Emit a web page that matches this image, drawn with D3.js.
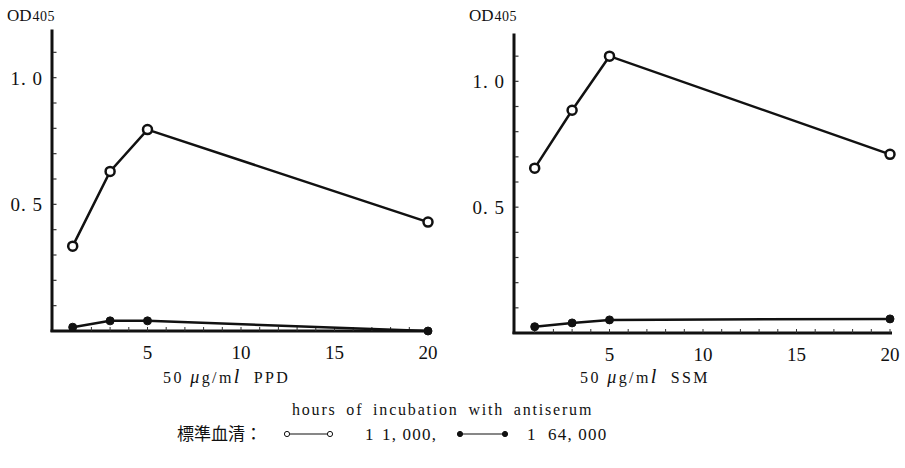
<!DOCTYPE html>
<html>
<head>
<meta charset="utf-8">
<script src="https://cdn.jsdelivr.net/npm/d3@7"></script>
<style>
    body { margin: 0; background: #fff; }
    text { font-family: "Liberation Serif", "DejaVu Serif", serif; fill: #111; }
    .cjk { font-family: "Noto Sans CJK JP", sans-serif; }
</style>
</head>
<body>
<svg id="chart" width="905" height="468"></svg>
<script>
// hours of incubation
const hours = [1, 3, 5, 20];

// OD405, serum 1:1,000 (open) and 1:64,000 (closed)
const ppdHigh = [0.335, 0.63, 0.795, 0.43];
const ppdLow = [0.015, 0.04, 0.04, 0.0];
const ssmHigh = [0.655, 0.885, 1.10, 0.71];
const ssmLow = [0.025, 0.04, 0.052, 0.056];

const xTicks = [5, 10, 15, 20];
const yTicks = [0.5, 1.0];
const yTickLabels = ["0. 5", "1. 0"];
const panelLabels = ["PPD", "SSM"];

const svg = d3.select("#chart");

// pannelli: posizioni in pixel
const PANELS = [
    { left: 54, right: 428, bottom: 331, top: 27, high: ppdHigh, low: ppdLow, label: panelLabels[0], labelX: 163 },
    { left: 516, right: 890, bottom: 333, top: 31, high: ssmHigh, low: ssmLow, label: panelLabels[1], labelX: 580 }
];

/**
 * Disegna un pannello
 */
function drawPanel(p) {
    const x = d3.scaleLinear().domain([0, 20]).range([p.left, p.right]);
    const y = d3.scaleLinear().domain([0, 1.2]).range([p.bottom, p.top]);
    const g = svg.append("g");

    // Assi
    g.append("line")
        .attr("x1", p.left - 2).attr("x2", p.left - 2)
        .attr("y1", y(0) + 1).attr("y2", y(1.19))
        .attr("stroke", "#111").attr("stroke-width", 3);
    g.append("line")
        .attr("x1", p.left - 3.5).attr("x2", x(20) + 2)
        .attr("y1", y(0)).attr("y2", y(0))
        .attr("stroke", "#111").attr("stroke-width", 3);

    // Tacche minori
    g.selectAll(".ytick").data(d3.range(1, 12).map(i => i / 10))
        .join("line")
        .attr("x1", p.left - 1).attr("x2", p.left + 2.5)
        .attr("y1", d => y(d)).attr("y2", d => y(d))
        .attr("stroke", "#333").attr("stroke-width", 1.2);
    g.selectAll(".xtick").data(d3.range(1, 21))
        .join("line")
        .attr("x1", d => x(d)).attr("x2", d => x(d))
        .attr("y1", y(0)).attr("y2", y(0) - 4)
        .attr("stroke", "#333").attr("stroke-width", 1);

    // Etichette
    g.selectAll(".xlab").data(xTicks)
        .join("text")
        .attr("x", d => x(d)).attr("y", y(0) + 28)
        .attr("text-anchor", "middle")
        .attr("font-size", 19)
        .text(d => d);
    g.selectAll(".ylab").data(yTicks)
        .join("text")
        .attr("x", p.left - 11).attr("y", d => y(d) + 7)
        .attr("text-anchor", "end")
        .attr("font-size", 19)
        .attr("letter-spacing", 1)
        .text((d, i) => yTickLabels[i]);

    const od = g.append("text")
        .attr("x", p.left - 47).attr("y", 21)
        .attr("font-size", 17);
    od.append("tspan").text("OD");
    od.append("tspan").attr("font-size", 14).attr("dx", 1).attr("letter-spacing", 0.5).text("405");

    const lab = g.append("text")
        .attr("x", p.labelX).attr("y", 383)
        .attr("font-size", 16)
        .attr("letter-spacing", 2.4);
    lab.append("tspan").text("50 ");
    lab.append("tspan").attr("font-style", "italic").attr("font-size", 18).text("μ");
    lab.append("tspan").text("g/m");
    lab.append("tspan").attr("font-style", "italic").attr("font-size", 20).text("l");
    lab.append("tspan").attr("dx", 12).text(p.label);

    // Serie
    const line = d3.line().x(d => x(d[0])).y(d => y(d[1]));
    [p.high, p.low].forEach((vals, k) => {
        const pts = hours.map((h, i) => [h, vals[i]]);
        g.append("path").datum(pts)
            .attr("d", line)
            .attr("fill", "none")
            .attr("stroke", "#111")
            .attr("stroke-width", 2.5);
        g.selectAll(".pt" + k).data(pts)
            .join("circle")
            .attr("cx", d => x(d[0])).attr("cy", d => y(d[1]))
            .attr("r", k === 0 ? 4.5 : 4)
            .attr("fill", k === 0 ? "#fff" : "#111")
            .attr("stroke", "#111")
            .attr("stroke-width", k === 0 ? 2.5 : 1);
    });
}

PANELS.forEach(drawPanel);

// Titolo asse x comune
svg.append("text")
    .attr("x", 292).attr("y", 415)
    .attr("font-size", 16)
    .attr("letter-spacing", 1.8)
    .attr("word-spacing", 4)
    .text("hours of incubation with antiserum");

// Legenda
const legY = 434;
svg.append("text").attr("class", "cjk")
    .attr("x", 177).attr("y", legY + 6)
    .attr("font-size", 17)
    .text("標準血清：");

const legendItems = [
    { x1: 287, x2: 330, open: true, ratio: "1", dil: "1, 000,", rx: 365, dx: 382 },
    { x1: 460, x2: 505, open: false, ratio: "1", dil: "64, 000", rx: 527, dx: 548 }
];
legendItems.forEach(it => {
    svg.append("line")
        .attr("x1", it.x1).attr("x2", it.x2)
        .attr("y1", legY).attr("y2", legY)
        .attr("stroke", "#111").attr("stroke-width", 1.2);
    [it.x1, it.x2].forEach(cx => {
        svg.append("circle")
            .attr("cx", cx).attr("cy", legY)
            .attr("r", 2.6)
            .attr("fill", it.open ? "#fff" : "#111")
            .attr("stroke", "#111").attr("stroke-width", 1);
    });
    svg.append("text").attr("x", it.rx).attr("y", legY + 6)
        .attr("font-size", 17).text(it.ratio);
    svg.append("text").attr("x", it.dx).attr("y", legY + 6)
        .attr("font-size", 17).attr("letter-spacing", 1.2).text(it.dil);
});
</script>
</body>
</html>
